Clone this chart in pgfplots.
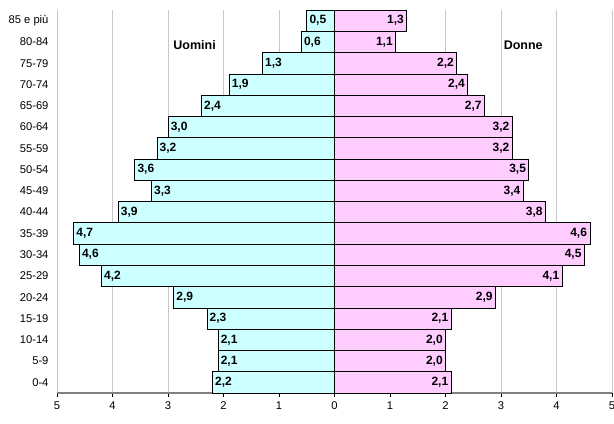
\documentclass[border=0pt]{standalone}
\usepackage{pgfplots}
\usepackage{pgfplotstable}
\pgfplotsset{compat=1.18}
\usepackage{fontspec}
\setmainfont{Liberation Sans}
\definecolor{mcyan}{HTML}{CCFFFF}
\definecolor{fpink}{HTML}{FFCCFF}
\pgfplotstableread{
y m f
0 2.2 2.1
1 2.1 2.0
2 2.1 2.0
3 2.3 2.1
4 2.9 2.9
5 4.2 4.1
6 4.6 4.5
7 4.7 4.6
8 3.9 3.8
9 3.3 3.4
10 3.6 3.5
11 3.2 3.2
12 3.0 3.2
13 2.4 2.7
14 1.9 2.4
15 1.3 2.2
16 0.6 1.1
17 0.5 1.3
}\datatable
\begin{document}
\begin{tikzpicture}
\begin{axis}[
  name=ax,
  scale only axis,
  width=555pt, height=383pt,
  xmin=-5, xmax=5, ymin=-0.5, ymax=17.5,
  xbar, bar width=1, bar shift=0pt,
  xtick={-5,...,5},
  xticklabels={5,4,3,2,1,0,1,2,3,4,5},
  ytick={0,...,17},
  yticklabels={0-4,5-9,10-14,15-19,20-24,25-29,30-34,35-39,40-44,45-49,50-54,55-59,60-64,65-69,70-74,75-79,80-84,85 e più},
  /pgf/number format/assume math mode=true,
  separate axis lines,
  axis x line*=bottom,
  axis y line*=left,
  y axis line style={draw=none},
  x axis line style={draw=black!50, line width=1.2pt},
  ytick style={draw=none},
  xtick style={draw=black, line width=0.6pt},
  tick align=outside,
  major tick length=4pt,
  xmajorgrids,
  major grid style={draw=black!22, line width=0.6pt},
  tick label style={font=\fontsize{11.2}{13}\selectfont},
  yticklabel style={xshift=-1pt},
  xticklabel style={yshift=-1pt},
  clip=false,
  nodes near coords={\pgfmathprintnumber[fixed,fixed zerofill,precision=1,use comma,assume math mode=true]{\pgfplotspointmeta}},
  nodes near coords style={font=\fontsize{12}{14}\selectfont\bfseries},
]
\addplot[draw=black, line width=0.6pt, fill=mcyan, point meta=\thisrow{m},
  every node near coord/.append style={anchor=west, inner sep=2.5pt}]
  table[x expr=-\thisrow{m}, y=y] {\datatable};
\addplot[draw=black, line width=0.6pt, fill=fpink, point meta=\thisrow{f},
  every node near coord/.append style={anchor=east, inner sep=2.5pt}]
  table[x=f, y=y] {\datatable};
\draw[black, line width=1pt] (axis cs:0,-0.5) -- (axis cs:0,17.5);
\node[font=\fontsize{12.5}{14}\selectfont\bfseries] at (axis cs:-2.52,15.85) {Uomini};
\node[font=\fontsize{12.5}{14}\selectfont\bfseries] at (axis cs:3.4,15.85) {Donne};
\end{axis}
\pgfresetboundingbox
\path ([xshift=-57pt,yshift=-30pt]ax.south west) rectangle ([xshift=2pt,yshift=10pt]ax.north east);
\end{tikzpicture}
\end{document}
